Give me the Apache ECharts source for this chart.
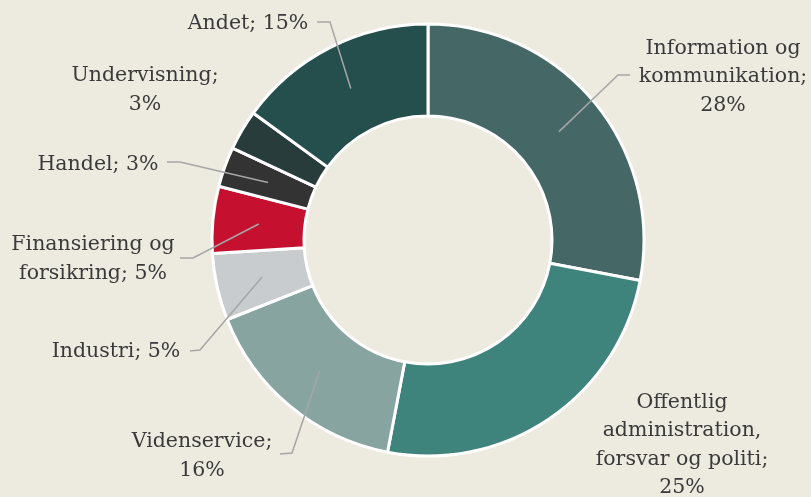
<!DOCTYPE html>
<html>
<head>
<meta charset="utf-8">
<script src="https://cdn.jsdelivr.net/npm/echarts@6/dist/echarts.min.js"></script>
<style>
  html, body { margin: 0; padding: 0; background: #edeae0; }
  #chart { width: 811px; height: 497px; }
</style>
</head>
<body>
<div id="chart"></div>
<script>
// categories, clockwise from 12 o'clock
const categories = [
  'Information og kommunikation',
  'Offentlig administration, forsvar og politi',
  'Videnservice',
  'Industri',
  'Finansiering og forsikring',
  'Handel',
  'Undervisning',
  'Andet',
];
// share of total, %
const shares = [28, 25, 16, 5, 5, 3, 3, 15];
// label text as broken in the original
const labelTexts = [
  'Information og\nkommunikation;\n28%',
  'Offentlig\nadministration,\nforsvar og politi;\n25%',
  'Videnservice;\n16%',
  'Industri; 5%',
  'Finansiering og\nforsikring; 5%',
  'Handel; 3%',
  'Undervisning;\n3%',
  'Andet; 15%',
];
const colors = ['#456866', '#3e837c', '#88a4a1', '#c8ccce', '#c5112f', '#333333', '#283d3b', '#244f4c'];

// label placement (text centre) and leader line bend/end, layout only
const labelPos = [[723, 77], [682, 445], [202, 456], [116, 352], [93, 259], [98, 165], [145, 90], [248, 24]];
const leaderBends = [
  [[618, 75], [630, 75]],
  null,
  [[292, 453], [280, 454]],
  [[200, 350], [190, 351]],
  [[193, 258], [180, 258]],
  [[180, 162], [167, 162]],
  null,
  [[330, 22], [317, 22]],
];

const center = [428, 240];

const chart = echarts.init(document.getElementById('chart'));
chart.setOption({
  backgroundColor: '#edeae0',
  animation: false,
  series: [
    {
      type: 'pie',
      center: center,
      radius: [124, 216],
      startAngle: 90,
      clockwise: true,
      silent: true,
      label: { show: false },
      labelLine: { show: false },
      itemStyle: { borderColor: '#ffffff', borderWidth: 3 },
      data: categories.map((name, i) => ({
        name,
        value: shares[i],
        itemStyle: { color: colors[i] },
      })),
      z: 1,
    },
    {
      // transparent helper pie: its leader lines start mid-ring
      type: 'pie',
      center: center,
      radius: [0, 170],
      startAngle: 90,
      clockwise: true,
      silent: true,
      avoidLabelOverlap: false,
      itemStyle: { color: 'rgba(0,0,0,0)' },
      label: {
        show: true,
        position: 'outside',
        color: '#3a3a3a',
        fontFamily: 'DejaVu Serif',
        fontSize: 20.5,
        lineHeight: 28.5,
        align: 'center',
        formatter: (p) => labelTexts[p.dataIndex],
      },
      labelLine: {
        show: true,
        length: 20,
        length2: 10,
        lineStyle: { color: '#a6a6a6', width: 1.5 },
      },
      labelLayout(params) {
        const i = params.dataIndex;
        const out = {
          x: labelPos[i][0],
          y: labelPos[i][1],
          align: 'center',
          verticalAlign: 'middle',
        };
        if (leaderBends[i] && params.labelLinePoints) {
          out.labelLinePoints = [params.labelLinePoints[0]].concat(leaderBends[i]);
        }
        return out;
      },
      data: categories.map((name, i) => ({
        name,
        value: shares[i],
        labelLine: { show: !!leaderBends[i] },
      })),
      z: 5,
    },
  ],
});
</script>
</body>
</html>
